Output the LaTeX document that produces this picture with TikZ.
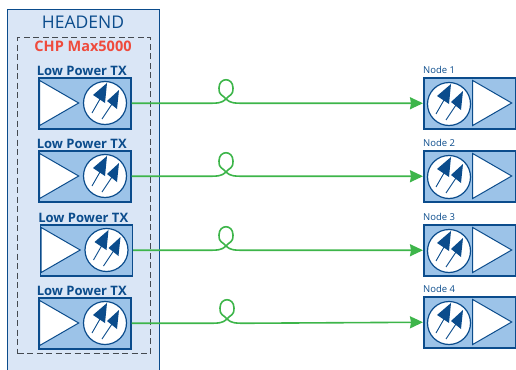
\documentclass[tikz,border=0pt]{standalone}
\usepackage{fontspec}
\setmainfont{Open Sans}
\usetikzlibrary{arrows.meta,calc,shapes.geometric}
\definecolor{navy}{HTML}{0B4C8C}
\definecolor{paleblue}{HTML}{DAE6F6}
\definecolor{midblue}{HTML}{9CC3E8}
\definecolor{fiber}{HTML}{3DB54A}
\definecolor{chpred}{HTML}{EF4A3C}
\definecolor{dashgray}{HTML}{444950}
\tikzset{
	unitbox/.style={draw=navy, line width=1.5pt, fill=midblue, minimum width=92pt, minimum height=51pt, inner sep=0pt, anchor=north west},
	amptri/.style={draw=navy, line width=1pt, fill=white, isosceles triangle, isosceles triangle stretches, minimum width=45pt, minimum height=39pt, inner sep=0pt, anchor=apex},
	diodering/.style={draw=navy, line width=1.2pt, fill=white, circle, minimum size=43pt, inner sep=0pt},
	txlabel/.style={text=navy, font=\fontsize{13}{15}\selectfont\bfseries, inner sep=0pt},
	rxlabel/.style={text=navy, font=\fontsize{9.5}{11}\selectfont, inner sep=0pt, anchor=west},
	fiberline/.style={draw=fiber, line width=1.6pt},
	diodes/.pic={
		\draw[navy, line width=0.9pt] (-13,10) -- (-5,-4);
		\fill[navy] (2,-20) -- (-12,-8) -- (0,0) -- cycle;
		\draw[navy, line width=0.9pt] (-3,16) -- (7,1);
		\fill[navy] (14,-13) -- (2,-2) -- (12,6) -- cycle;
	}
}
\begin{document}
\begin{tikzpicture}[x=1pt, y=-1pt]
	\clip (0,0) rectangle (516,369);
	\useasboundingbox (0,0) rectangle (516,369);
	\node[draw=navy, line width=1pt, fill=paleblue, minimum width=152pt, minimum height=380pt, inner sep=0pt, anchor=north west] (headend) at (7,9) {};
	\node[text=navy, font=\fontsize{17.5}{20}\selectfont, inner sep=0pt] (headendtxt) at (83,22) {HEADEND};
	\node[draw=dashgray, dash pattern=on 6pt off 3.5pt, line width=1.2pt, minimum width=133pt, minimum height=316pt, inner sep=0pt, anchor=north west] (chp) at (17,37) {};
	\node[text=chpred, font=\fontsize{14.5}{17}\selectfont\bfseries, inner sep=0pt] (chptxt) at (83,46) {CHP Max5000};
	\foreach \i/\xa/\ya/\yb/\xl in {1/38/77/77/226, 2/38/150/150/226, 3/39.5/224/224/226, 4/38/297/296/227}{
		% transmitter
		\node[unitbox] (tx\i) at (\xa,\ya) {};
		\node[txlabel] (txl\i) at ($(tx\i.north)+(-3,-6)$) {Low Power TX};
		\node[amptri] (txa\i) at ($(tx\i.north west)+(42,26)$) {};
		\node[diodering] (txd\i) at ($(tx\i.north west)+(67,26)$) {};
		\pic at (txd\i) {diodes};
		% receiver
		\node[unitbox] (rx\i) at (423,\yb) {};
		\node[rxlabel] (rxl\i) at ($(rx\i.north west)+(0,-7)$) {Node \i};
		\node[diodering] (rxd\i) at ($(rx\i.north west)+(26,27)$) {};
		\node[amptri] (rxa\i) at ($(rx\i.north west)+(90,26)$) {};
		\pic at (rxd\i) {diodes};
		% fiber with its loop
		\coordinate (lp\i) at (\xl,\ya+22);
		\draw[fiberline, -{Stealth[length=13pt,width=12pt,inset=1pt]}] (tx\i.east) -- ($(tx\i.east-|lp\i)+(-18,0)$) .. controls +(10,0) and ($(lp\i)+(-4,4)$) .. (lp\i) .. controls +(4,-5) and +(0,8) .. ($(lp\i)+(7,-11)$) .. controls +(0,-11) and +(0,-11) .. ($(lp\i)+(-7,-11)$) .. controls +(0,8) and +(-4,-5) .. (lp\i) .. controls +(4,4) and +(-10,0) .. ($(tx\i.east-|lp\i)+(18,0)$) -- (rx\i.west);
	}
\end{tikzpicture}
\end{document}
